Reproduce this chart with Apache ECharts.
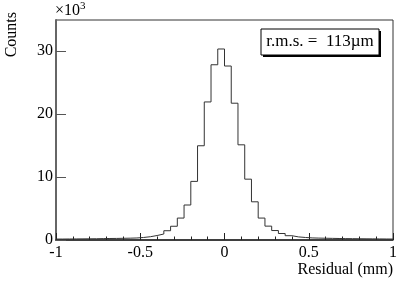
<!DOCTYPE html>
<html>
<head>
<meta charset="utf-8">
<script src="https://cdn.jsdelivr.net/npm/echarts@6/dist/echarts.min.js"></script>
<style>
html,body{margin:0;padding:0;background:#fff;}
#c{width:415px;height:281px;}
</style>
</head>
<body>
<div id="c"></div>
<script>
// Bin lower edges (mm) and the closing upper edge
const binEdges = [-1.00,-0.96,-0.92,-0.88,-0.84,-0.80,-0.76,-0.72,-0.68,-0.64,
  -0.60,-0.56,-0.52,-0.48,-0.44,-0.40,-0.36,-0.32,-0.28,-0.24,
  -0.20,-0.16,-0.12,-0.08,-0.04,0.00,0.04,0.08,0.12,0.16,
  0.20,0.24,0.28,0.32,0.36,0.40,0.44,0.48,0.52,0.56,
  0.60,0.64,0.68,0.72,0.76,0.80,0.84,0.88,0.92,0.96,1.00];
// Counts per bin
const counts = [150,160,170,180,190,200,220,240,250,270,
  290,320,400,520,710,950,1470,2180,3480,5550,
  9300,14950,21900,27800,30300,27600,21700,15100,9650,6060,
  3480,2200,1500,1030,680,490,400,330,300,280,
  260,240,220,210,200,190,180,170,160,150];
const xTickLabels = ['-1','-0.5','0','0.5','1'];
const xTickValues = [-1,-0.5,0,0.5,1];
const yTickValues = [0,10000,20000,30000];
const yTickLabels = ['0','10','20','30'];
const xTitle = 'Residual (mm)';
const yTitle = 'Counts';
const rmsText = 'r.m.s. =  113\u00b5m';

const stepData = counts.map((v, i) => [binEdges[i], v]);
stepData.push([binEdges[binEdges.length - 1], counts[counts.length - 1]]);

const FONT = 'Liberation Serif';
const chart = echarts.init(document.getElementById('c'), null, {renderer: 'canvas'});
chart.setOption({
  animation: false,
  backgroundColor: '#fff',
  grid: {left: 56, right: 22, top: 20, bottom: 41, show: true, borderColor: '#333', borderWidth: 1, outerBoundsMode: 'none'},
  xAxis: {
    type: 'value', min: -1, max: 1, interval: 0.5,
    axisLine: {show: true, onZero: false, lineStyle: {color: '#222', width: 1.5}},
    axisTick: {show: true, inside: true, length: 7, lineStyle: {color: '#222'}},
    minorTick: {show: true, splitNumber: 5, length: 3.5, lineStyle: {color: '#222'}},
    splitLine: {show: false},
    axisLabel: {
      fontFamily: FONT, fontSize: 16, color: '#000', margin: 5,
      formatter: v => { const i = xTickValues.findIndex(t => Math.abs(t - v) < 1e-9); return i >= 0 ? xTickLabels[i] : ''; }
    }
  },
  yAxis: {
    type: 'value', min: 0, max: 34900,
    axisLine: {show: true, onZero: false, lineStyle: {color: '#666', width: 2}},
    axisTick: {show: true, inside: true, length: 10, customValues: yTickValues, lineStyle: {color: '#555'}},
    splitLine: {show: false},
    axisLabel: {
      fontFamily: FONT, fontSize: 16, color: '#000', margin: 3,
      customValues: yTickValues,
      formatter: v => { const i = yTickValues.indexOf(v); return i >= 0 ? yTickLabels[i] : ''; }
    }
  },
  series: [{
    type: 'line', step: 'end', data: stepData, symbol: 'none',
    lineStyle: {color: '#333', width: 1}
  }],
  graphic: [
    {type: 'text', left: 55, top: 1, style: {
      text: '\u00d710{s|3}', fontFamily: FONT, fontSize: 16, fill: '#000',
      rich: {s: {fontFamily: FONT, fontSize: 11, verticalAlign: 'top', padding: [0,0,8,0]}}
    }},
    {type: 'text', x: 20, y: 12, rotation: Math.PI / 2, style: {
      text: yTitle, fontFamily: FONT, fontSize: 16, fill: '#000', align: 'right', verticalAlign: 'bottom'
    }},
    {type: 'text', x: 393, y: 262, style: {
      text: xTitle, fontFamily: FONT, fontSize: 16, fill: '#000', align: 'right', verticalAlign: 'top'
    }},
    {type: 'rect', shape: {x: 263, y: 31, width: 118, height: 26}, style: {fill: '#000'}},
    {type: 'rect', shape: {x: 261, y: 29, width: 118, height: 26}, style: {fill: '#fff', stroke: '#000', lineWidth: 1}},
    {type: 'text', x: 320, y: 42, style: {
      text: rmsText, fontFamily: FONT, fontSize: 17, fill: '#000', align: 'center', verticalAlign: 'middle'
    }}
  ]
});
</script>
</body>
</html>
